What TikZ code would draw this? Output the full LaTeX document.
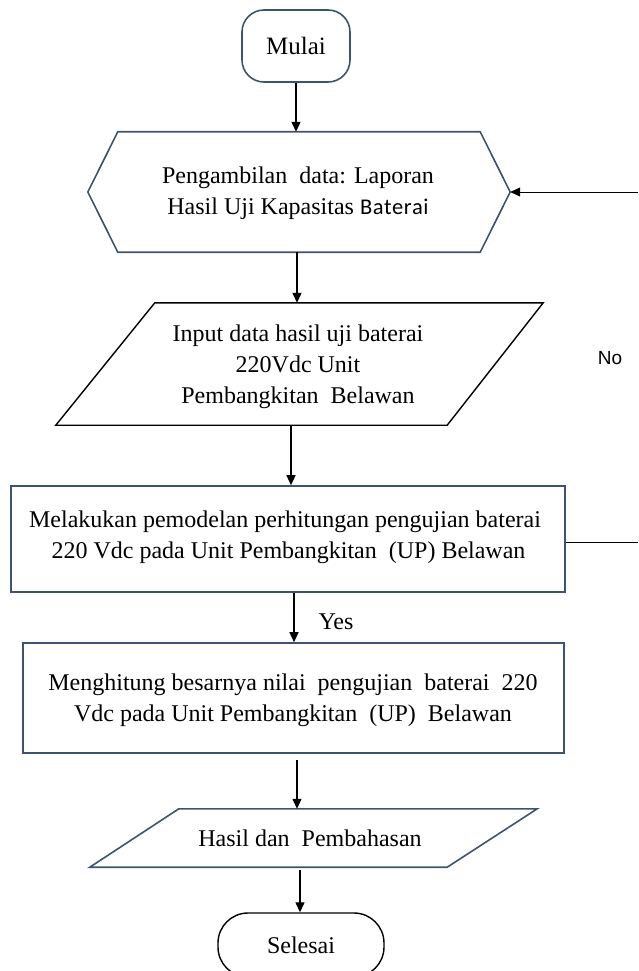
\documentclass[tikz,border=0pt]{standalone}
\usepackage{fontspec}
\setmainfont{Liberation Serif}
\newfontfamily\calfont{Carlito}
\newfontfamily\arfont{Liberation Sans}
\usetikzlibrary{arrows.meta}
\definecolor{slate}{HTML}{3F5370}
\begin{document}
\begin{tikzpicture}[x=1pt,y=-1pt,
  arr/.style={-{Triangle[length=10pt,width=9pt]}, line width=1.3pt, black},
  txt/.style={font=\fontsize{24}{31}\selectfont, align=center, inner sep=0pt},
  sbox/.style={draw=slate, line width=1.6pt},
  bbox/.style={draw=black, line width=1.4pt}]
\useasboundingbox (0,0) rectangle (638,971);
% start
\node[txt, sbox, rounded corners=22pt, minimum width=108pt, minimum height=72pt, font=\fontsize{25}{31}\selectfont] (start) at (296,46) {Mulai};
% hexagon
\node[txt, minimum width=422pt, minimum height=120pt] (hex) at (299,192) {};
\node[txt] (hext) at (298,193)
  {Pengambilan \ data: Laporan\\Hasil Uji Kapasitas {\calfont\fontsize{22.5}{31}\selectfont B\kern0.5pt a\kern0.5pt t\kern0.5pt e\kern0.5pt r\kern0.5pt a\kern0.5pt i}};
\draw[sbox] (hex.west) -- ([xshift=30pt]hex.north west) -- ([xshift=-30pt]hex.north east)
  -- (hex.east) -- ([xshift=-30pt]hex.south east) -- ([xshift=30pt]hex.south west) -- cycle;
% input parallelogram
\node[txt, minimum width=487pt, minimum height=122pt] (in1) at (299.5,364) {};
\node[txt] (in1t) at (298,367) {Input data hasil uji baterai\\220Vdc Unit\\Pembangkitan \ Belawan};
\draw[bbox] ([xshift=99pt]in1.north west) -- (in1.north east)
  -- ([xshift=-96pt]in1.south east) -- (in1.south west) -- cycle;
% process 1
\node[txt, sbox, minimum width=554pt, minimum height=106pt] (r1) at (288,539) {};
\node[txt] (r1t) at (285,537)
  {Melakukan pemodelan perhitungan pengujian baterai\\\hspace*{7pt}220 Vdc pada Unit Pembangkitan \ (UP) Belawan};
% process 2
\node[txt, sbox, minimum width=541pt, minimum height=110pt] (r2) at (293.5,698) {};
\node[txt] (r2t) at (293,700)
  {Menghitung besarnya nilai \ pengujian \ baterai \ 220\\Vdc pada Unit Pembangkitan \ (UP) \ Belawan};
% output parallelogram
\node[txt, minimum width=447pt, minimum height=58pt] (res) at (313.5,838) {};
\node[txt] (rest) at (310,838) {Hasil dan \ Pembahasan};
\draw[sbox] ([xshift=89pt]res.north west) -- (res.north east)
  -- ([xshift=-90pt]res.south east) -- (res.south west) -- cycle;
% end
\node[txt, bbox, rounded corners=30pt, minimum width=166pt, minimum height=64pt] (end) at (301,945) {Selesai};
% labels
\node[font=\arfont\fontsize{19}{22}\selectfont, inner sep=0pt] (no) at (610,358) {No};
\node[txt] (yes) at (336,622) {Yes};
% connectors
\draw[arr] (start.south) -- (start.south |- hex.north);
\draw[arr] ([xshift=-2pt]hex.south) -- ([xshift=-2pt]hex.south |- in1.north);
\draw[arr] ([xshift=-8.5pt]in1.south) -- ([xshift=-8.5pt]in1.south |- r1.north);
\draw[arr] ([xshift=6pt]r1.south) -- ([xshift=6pt]r1.south |- r2.north);
\draw[arr] ([xshift=3.5pt,yshift=-6pt]r2.south) -- ([xshift=3.5pt]r2.south |- res.north);
\draw[arr] ([xshift=-13.5pt,yshift=-3pt]res.south) -- ([xshift=-13.5pt]res.south |- end.north);
\coordinate (loopin) at (638,192);
\coordinate (noend) at (638,542);
\draw[arr, line width=1pt] (loopin) -- (hex.east);
\draw[line width=1pt] (noend -| r1.east) -- (noend);
\end{tikzpicture}
\end{document}
